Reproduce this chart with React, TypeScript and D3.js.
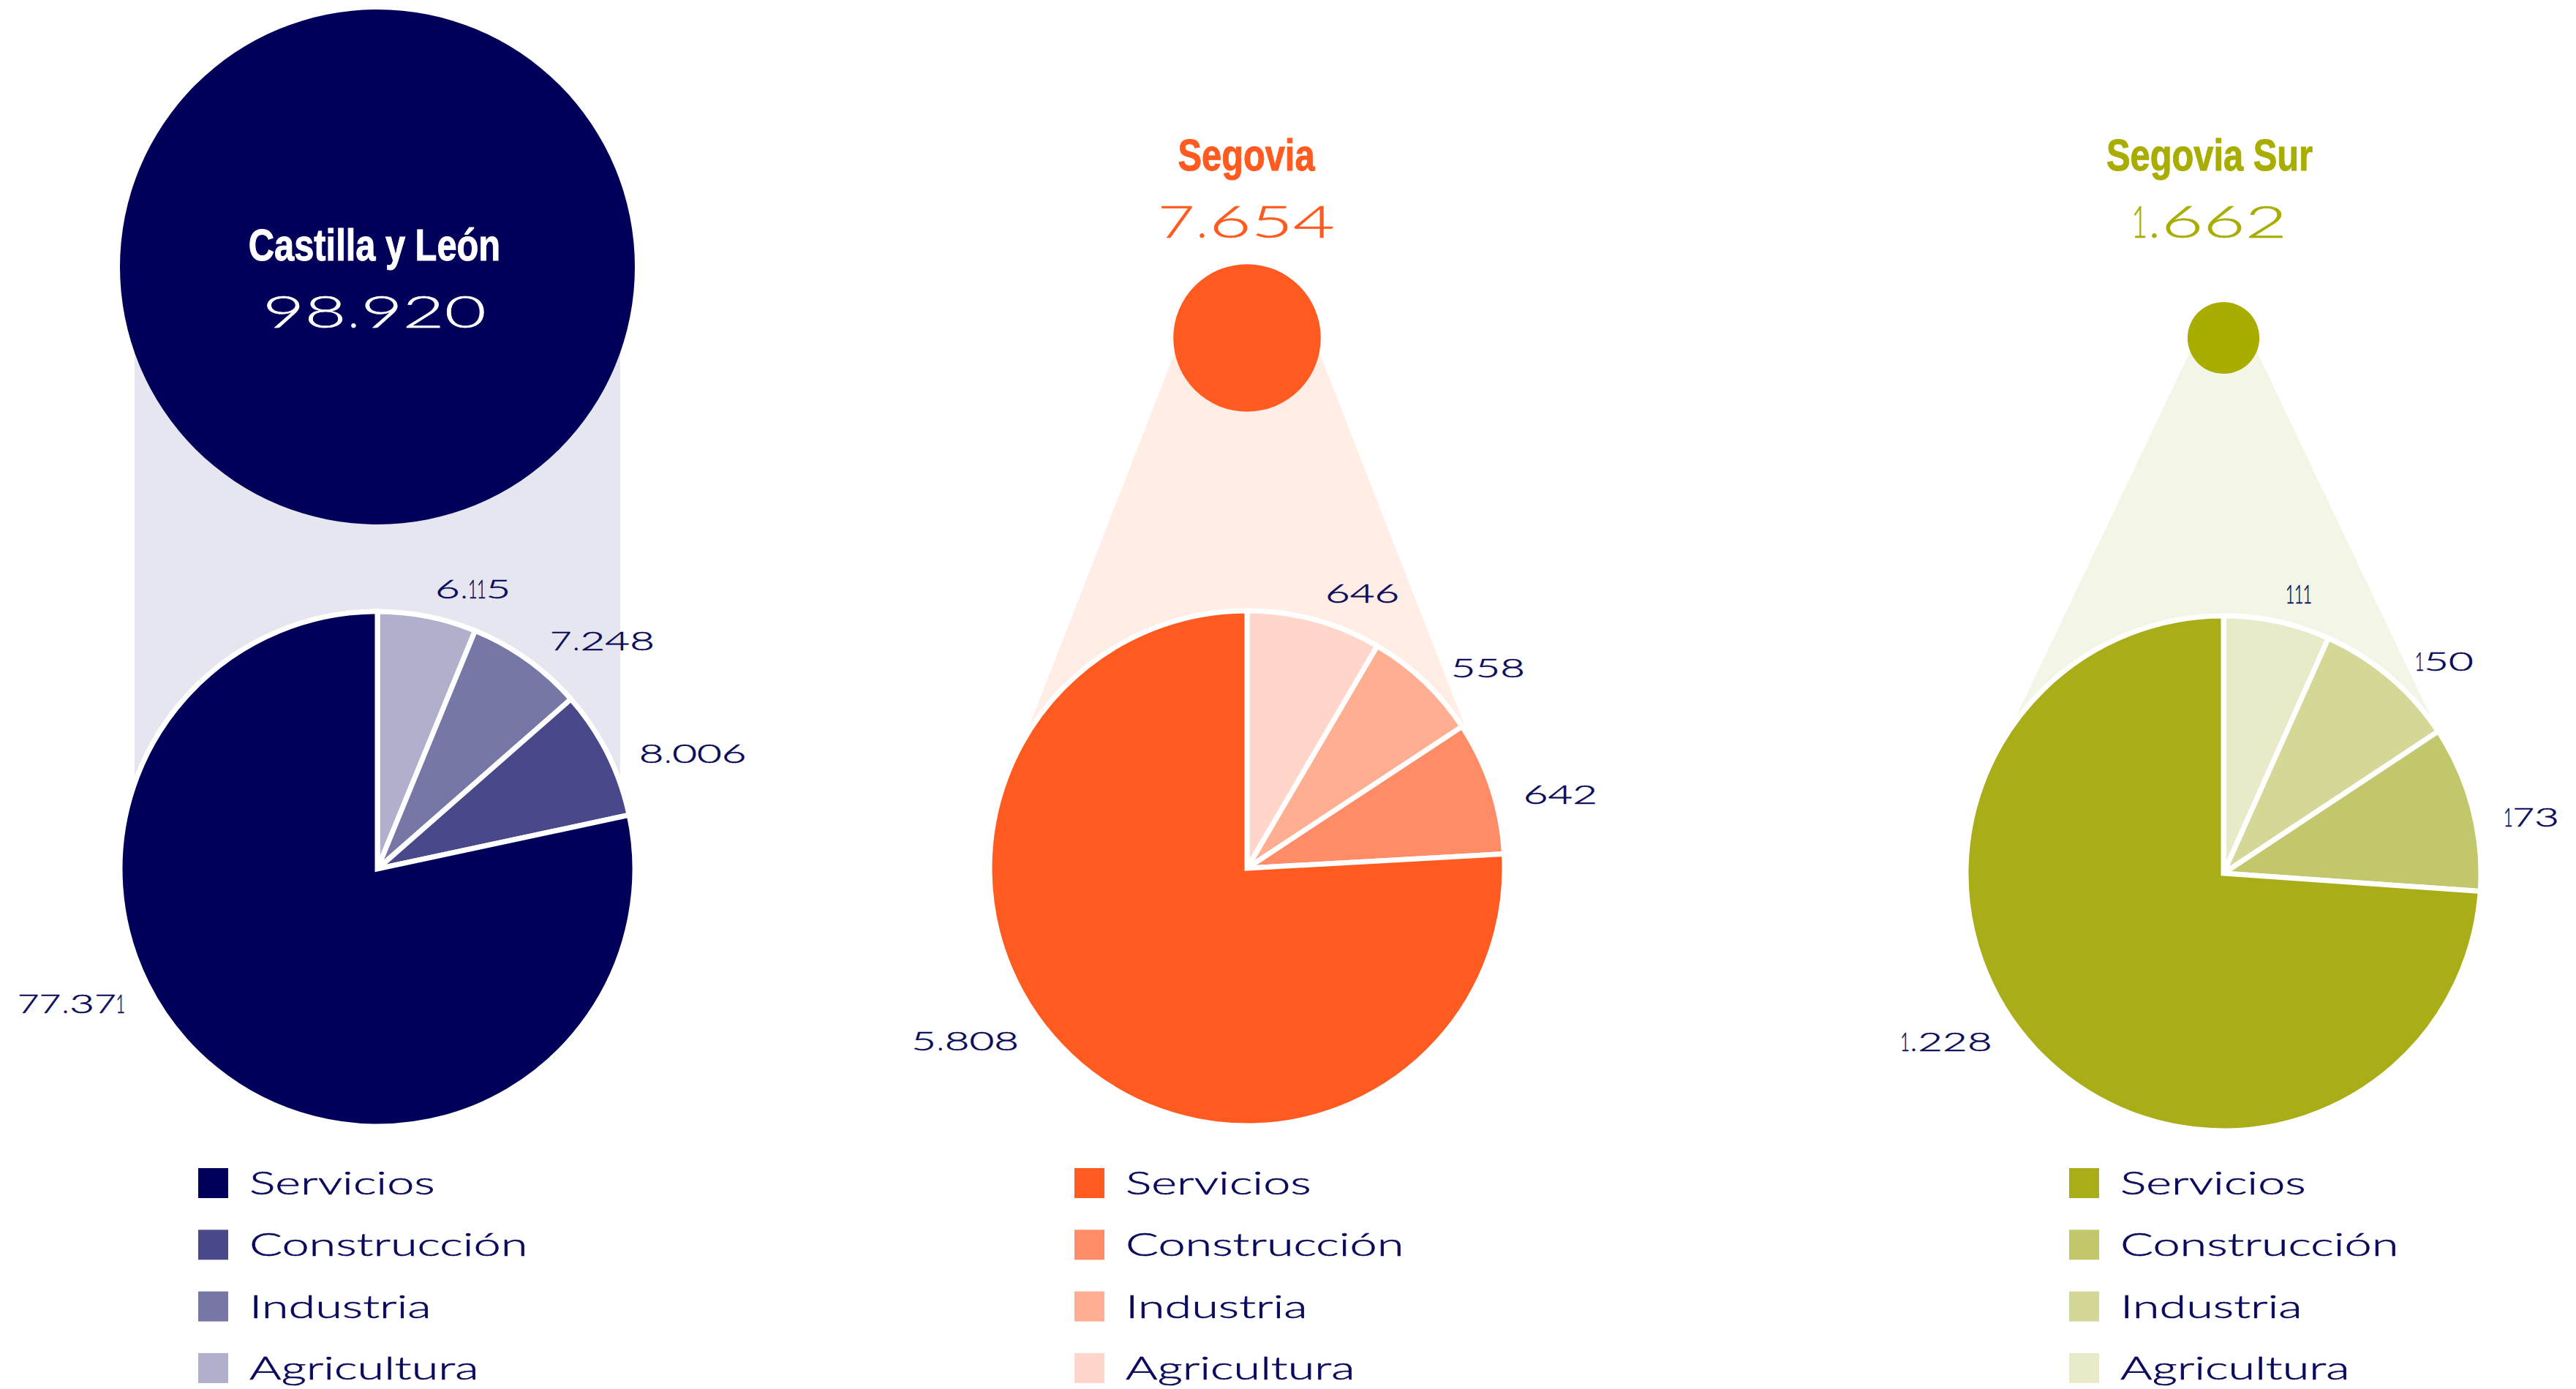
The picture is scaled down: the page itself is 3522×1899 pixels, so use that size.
import React from "react";
import * as d3 from "d3";

// ---------- data ----------
const regions = ["Castilla y León", "Segovia", "Segovia Sur"];
const totals = [98920, 7654, 1662];
const sectors = ["Servicios", "Construcción", "Industria", "Agricultura"];
const cylValues = [77371, 8006, 7248, 6115];
const segoviaValues = [5808, 642, 558, 646];
const segoviaSurValues = [1228, 173, 150, 111];
const sectorValues = [cylValues, segoviaValues, segoviaSurValues];

// ---------- styles ----------
const cylColors = ["#00005a", "#48488a", "#7676a7", "#b0b0cc"];
const segoviaColors = ["#ff5a1f", "#ff8c66", "#ffae91", "#ffd6c9"];
const surColors = ["#a8ad18", "#c3c76c", "#d5d796", "#e8eac8"];
const palettes = [cylColors, segoviaColors, surColors];
const mainColors = ["#00005a", "#ff5a1f", "#a8ad00"];
const fanColors = ["#e5e6ef", "#ffede6", "#f3f5e6"];
const titleColors = ["#ffffff", "#ff5a1f", "#a8ad00"];
const NAVY = "#0a0a5c";

// ---------- layout ----------
const W = 3522;
const H = 1899;
const PIE_R = 352;
const LABEL_R = 391;
const RIGHT_LABEL_SPREAD = 0.045;
const layout = [
  { cx: 516, pieCy: 1188, topCy: 365, titleY: 356, numY: 448, textDx: -4, legendX: 271, leftShift: 23, fanTopInset: 20, fanBotInset: 20 },
  { cx: 1705, pieCy: 1187, topCy: 462, titleY: 233, numY: 325, textDx: -1, legendX: 1469, leftShift: 9.5, fanTopInset: 16, fanBotInset: 4 },
  { cx: 3040, pieCy: 1194, topCy: 462, titleY: 233, numY: 325, textDx: -19, legendX: 2829, leftShift: 7, fanTopInset: 16, fanBotInset: 4 },
];
const LEG_TOP = 1597;
const LEG_STEP = 84.3;
const LEG_SQ = 41;

const fmt = d3
  .formatLocale({ decimal: ",", thousands: ".", grouping: [3], currency: ["", "€"] })
  .format(",d");

const rScale = d3.scaleSqrt().domain([0, d3.max(totals) as number]).range([4, PIE_R]);

const WIDE_FONT = "Lato, 'Liberation Sans', sans-serif";
const WIDE_WEIGHT = 300;

// Extended-looking number: each glyph placed in its own slot and stretched.
function WideNum({ text, x, y, capH, anchor, fill }: any) {
  const adv = (c: string) =>
    c === "1" ? 0.46 * capH : c === "." ? 0.45 * capH : c === "7" ? 1.15 * capH : 1.3 * capH;
  const sc = (c: string) => (c === "1" ? 0.6 : c === "." ? 1 : c === "7" ? 1.4 : 1.6);
  const chars = text.split("");
  const total = d3.sum(chars, adv);
  const start = anchor === "start" ? x : anchor === "end" ? x - total : x - total / 2;
  let acc = start;
  const fs = capH / 0.716;
  return (
    <g>
      {chars.map((c: string, i: number) => {
        const a = adv(c);
        const cxx = acc + a / 2;
        acc += a;
        return (
          <text
            key={i}
            transform={`translate(${cxx},${y}) scale(${sc(c)},1)`}
            textAnchor="middle"
            fontFamily={WIDE_FONT}
            fontWeight={WIDE_WEIGHT}
            fontSize={fs}
            fill={fill}
            stroke={fill}
            strokeWidth={0.6}
          >
            {c}
          </text>
        );
      })}
    </g>
  );
}

function Panel({ idx }: { idx: number }) {
  const L = layout[idx];
  const values = sectorValues[idx];
  const colors = palettes[idx];
  const rTop = rScale(totals[idx]);

  // clockwise from 12 o'clock: Agricultura, Industria, Construcción, Servicios
  const order = [3, 2, 1, 0];
  const pieData = d3
    .pie<number>()
    .sort(null)
    .value((i) => values[i])(order);
  const arc = d3.arc<any>().innerRadius(0).outerRadius(PIE_R);

  // fan: external tangents between (inset) top circle and (inset) pie circle
  const r1 = rTop - L.fanTopInset;
  const r2 = PIE_R - L.fanBotInset;
  const dist = L.pieCy - L.topCy;
  const sa = (r2 - r1) / dist;
  const ca = Math.sqrt(1 - sa * sa);
  const fanPts: [number, number][] = [
    [L.cx - r1 * ca, L.topCy - r1 * sa],
    [L.cx + r1 * ca, L.topCy - r1 * sa],
    [L.cx + r2 * ca, L.pieCy - r2 * sa],
    [L.cx - r2 * ca, L.pieCy - r2 * sa],
  ];
  const fanPath = d3.line()(fanPts) + "Z";

  const labelCapH = 26;

  return (
    <g>
      <path d={fanPath} fill={fanColors[idx]} />
      <circle cx={L.cx} cy={L.topCy} r={rTop} fill={mainColors[idx]} />
      <g transform={`translate(${L.cx},${L.pieCy})`}>
        {pieData.map((d, i) => (
          <path
            key={i}
            d={arc(d) as string}
            fill={colors[d.data]}
            stroke="#ffffff"
            strokeWidth={7}
            strokeLinejoin="miter"
          />
        ))}
        {pieData.map((d, i) => {
          let mid = (((d.startAngle + d.endAngle) / 2) * 180) / Math.PI;
          const left = mid > 180;
          mid += left ? L.leftShift : mid * RIGHT_LABEL_SPREAD;
          const th = (mid * Math.PI) / 180;
          const ly = -LABEL_R * Math.cos(th);
          const lx = Math.sqrt(Math.max(0, LABEL_R * LABEL_R - ly * ly)) * (left ? -1 : 1);
          return (
            <WideNum
              key={"l" + i}
              text={fmt(values[d.data])}
              x={lx}
              y={ly + labelCapH / 2}
              capH={labelCapH}
              anchor={left ? "end" : "start"}
              fill={NAVY}
            />
          );
        })}
      </g>
      <text
        transform={`translate(${L.cx + L.textDx},${L.titleY}) scale(0.8,1)`}
        textAnchor="middle"
        fontFamily="'Liberation Sans', Arial, sans-serif"
        fontWeight={700}
        fontSize={61}
        fill={titleColors[idx]}
        stroke={titleColors[idx]}
        strokeWidth={1}
      >
        {regions[idx]}
      </text>
      <WideNum
        text={fmt(totals[idx])}
        x={L.cx + L.textDx}
        y={L.numY}
        capH={44}
        anchor="middle"
        fill={titleColors[idx]}
      />
      {sectors.map((s, i) => (
        <g key={"lg" + i} transform={`translate(${L.legendX},${LEG_TOP + i * LEG_STEP})`}>
          <rect x={0} y={0} width={LEG_SQ} height={LEG_SQ} fill={colors[i]} />
          <text
            transform={`translate(70,36) scale(1.55,1)`}
            fontFamily={WIDE_FONT}
            fontWeight={WIDE_WEIGHT}
            fontSize={43}
            fill={NAVY}
            stroke={NAVY}
            strokeWidth={0.6}
          >
            {s}
          </text>
        </g>
      ))}
    </g>
  );
}

export default function App() {
  return (
    <svg
      width={W}
      height={H}
      viewBox={`0 0 ${W} ${H}`}
      style={{ position: "absolute", left: 0, top: 0, display: "block", background: "#ffffff" }}
    >
      <rect x={0} y={0} width={W} height={H} fill="#ffffff" />
      {regions.map((_, i) => (
        <Panel key={i} idx={i} />
      ))}
    </svg>
  );
}
